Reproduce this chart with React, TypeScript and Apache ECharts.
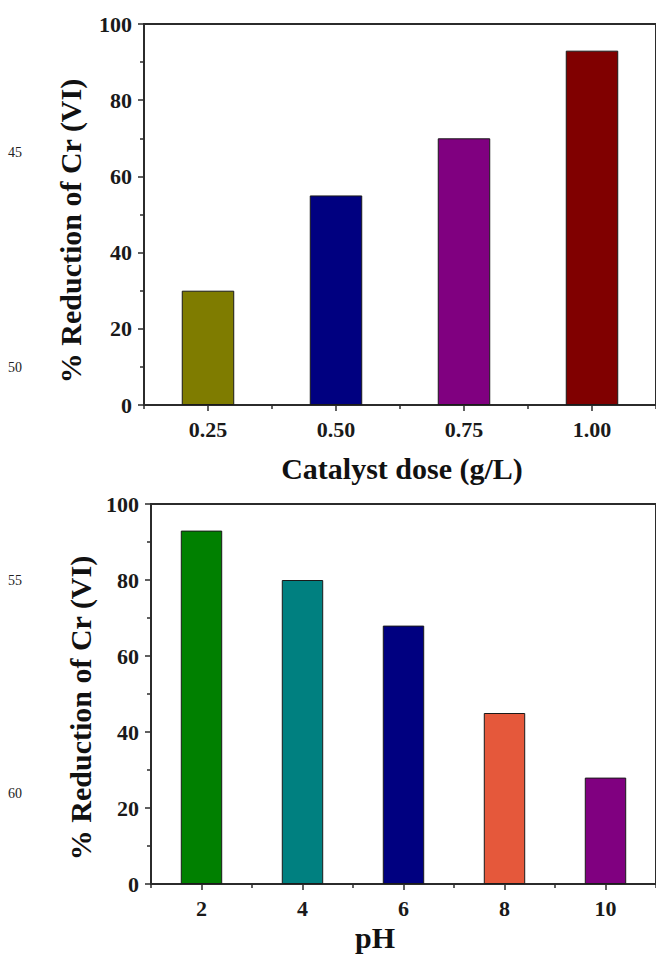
import React, { useEffect, useRef } from "react";
import * as echarts from "echarts";

// Catalyst dose study
const doseCategories = ["0.25", "0.50", "0.75", "1.00"];
const doseValues = [30, 55, 70, 93];
const doseColors = ["#7f7c00", "#000080", "#800080", "#800000"];

// pH study
const phCategories = ["2", "4", "6", "8", "10"];
const phValues = [93, 80, 68, 45, 28];
const phColors = ["#008000", "#008080", "#000080", "#e5583b", "#800080"];

// y-axis ticks
const yMin = 0;
const yMax = 100;
const yStep = 20;

// manuscript line numbers in the margin
const lineNumbers = ["45", "50", "55", "60"];

const SERIF = "'Liberation Serif', 'Times New Roman', serif";
const AXIS = "#2b2b2b";

function App() {
  const ref = useRef<HTMLDivElement>(null);

  useEffect(() => {
    if (!ref.current) return;
    const chart = echarts.init(ref.current, null, { renderer: "svg" });

    const tickLabel = {
      fontFamily: SERIF,
      fontWeight: "bold" as const,
      fontSize: 22,
      color: "#1a1a1a",
    };

    const makeY = (gridIndex: number) => ({
      type: "value" as const,
      gridIndex,
      min: yMin,
      max: yMax,
      interval: yStep,
      axisLine: { show: true, lineStyle: { color: AXIS, width: 2 } },
      axisTick: { show: true, length: 6, lineStyle: { color: AXIS, width: 1.5 } },
      minorTick: { show: true, splitNumber: 2, length: 4, lineStyle: { color: AXIS, width: 1.5 } },
      splitLine: { show: false },
      axisLabel: { ...tickLabel, margin: 12 },
    });

    const makeXPair = (gridIndex: number, data: string[]) => [
      {
        type: "category" as const,
        gridIndex,
        data,
        axisLine: { show: true, lineStyle: { color: AXIS, width: 2 } },
        axisTick: { show: true, alignWithLabel: true, length: 6, lineStyle: { color: AXIS, width: 1.5 } },
        axisLabel: { ...tickLabel, margin: 13 },
      },
      {
        type: "category" as const,
        gridIndex,
        data,
        position: "bottom" as const,
        axisLine: { show: false },
        axisTick: { show: true, length: 4, lineStyle: { color: AXIS, width: 1.5 } },
        axisLabel: { show: false },
      },
    ];

    const toBars = (values: number[], colors: string[]) =>
      values.map((v, i) => ({
        value: v,
        itemStyle: { color: colors[i], borderColor: "#1a1a1a", borderWidth: 1 },
      }));

    const titleStyle = {
      fontFamily: SERIF,
      fontWeight: "bold" as const,
      fontSize: 30,
      fill: "#111",
      textAlign: "center" as const,
      textVerticalAlign: "middle" as const,
    };

    const lineNumberY = [152, 367, 580, 793];

    chart.setOption({
      animation: false,
      backgroundColor: "#ffffff",
      grid: [
        { left: 144, top: 24, width: 516, height: 381, show: true, borderColor: AXIS, borderWidth: 2 },
        { left: 151, top: 504, width: 515, height: 380, show: true, borderColor: AXIS, borderWidth: 2 },
      ],
      xAxis: [...makeXPair(0, doseCategories), ...makeXPair(1, phCategories)],
      yAxis: [makeY(0), makeY(1)],
      series: [
        {
          type: "bar",
          xAxisIndex: 0,
          yAxisIndex: 0,
          barWidth: "41%",
          data: toBars(doseValues, doseColors),
        },
        {
          type: "bar",
          xAxisIndex: 2,
          yAxisIndex: 1,
          barWidth: "41%",
          data: toBars(phValues, phColors),
        },
      ],
      graphic: [
        { type: "text", x: 402, y: 468, style: { ...titleStyle, text: "Catalyst dose (g/L)" } },
        { type: "text", x: 375, y: 937, style: { ...titleStyle, text: "pH" } },
        {
          type: "text",
          x: 70,
          y: 231,
          rotation: Math.PI / 2,
          style: { ...titleStyle, text: "% Reduction of Cr (VI)" },
        },
        {
          type: "text",
          x: 80,
          y: 708,
          rotation: Math.PI / 2,
          style: { ...titleStyle, text: "% Reduction of Cr (VI)" },
        },
        ...lineNumbers.map((t, i) => ({
          type: "text" as const,
          x: 15,
          y: lineNumberY[i],
          style: {
            text: t,
            fontFamily: SERIF,
            fontSize: 14,
            fill: "#222222",
            textAlign: "center" as const,
            textVerticalAlign: "middle" as const,
          },
        })),
      ],
    });

    return () => chart.dispose();
  }, []);

  return (
    <div
      ref={ref}
      style={{ position: "absolute", left: 0, top: 0, width: 656, height: 954, background: "#fff" }}
    />
  );
}

export default App;
